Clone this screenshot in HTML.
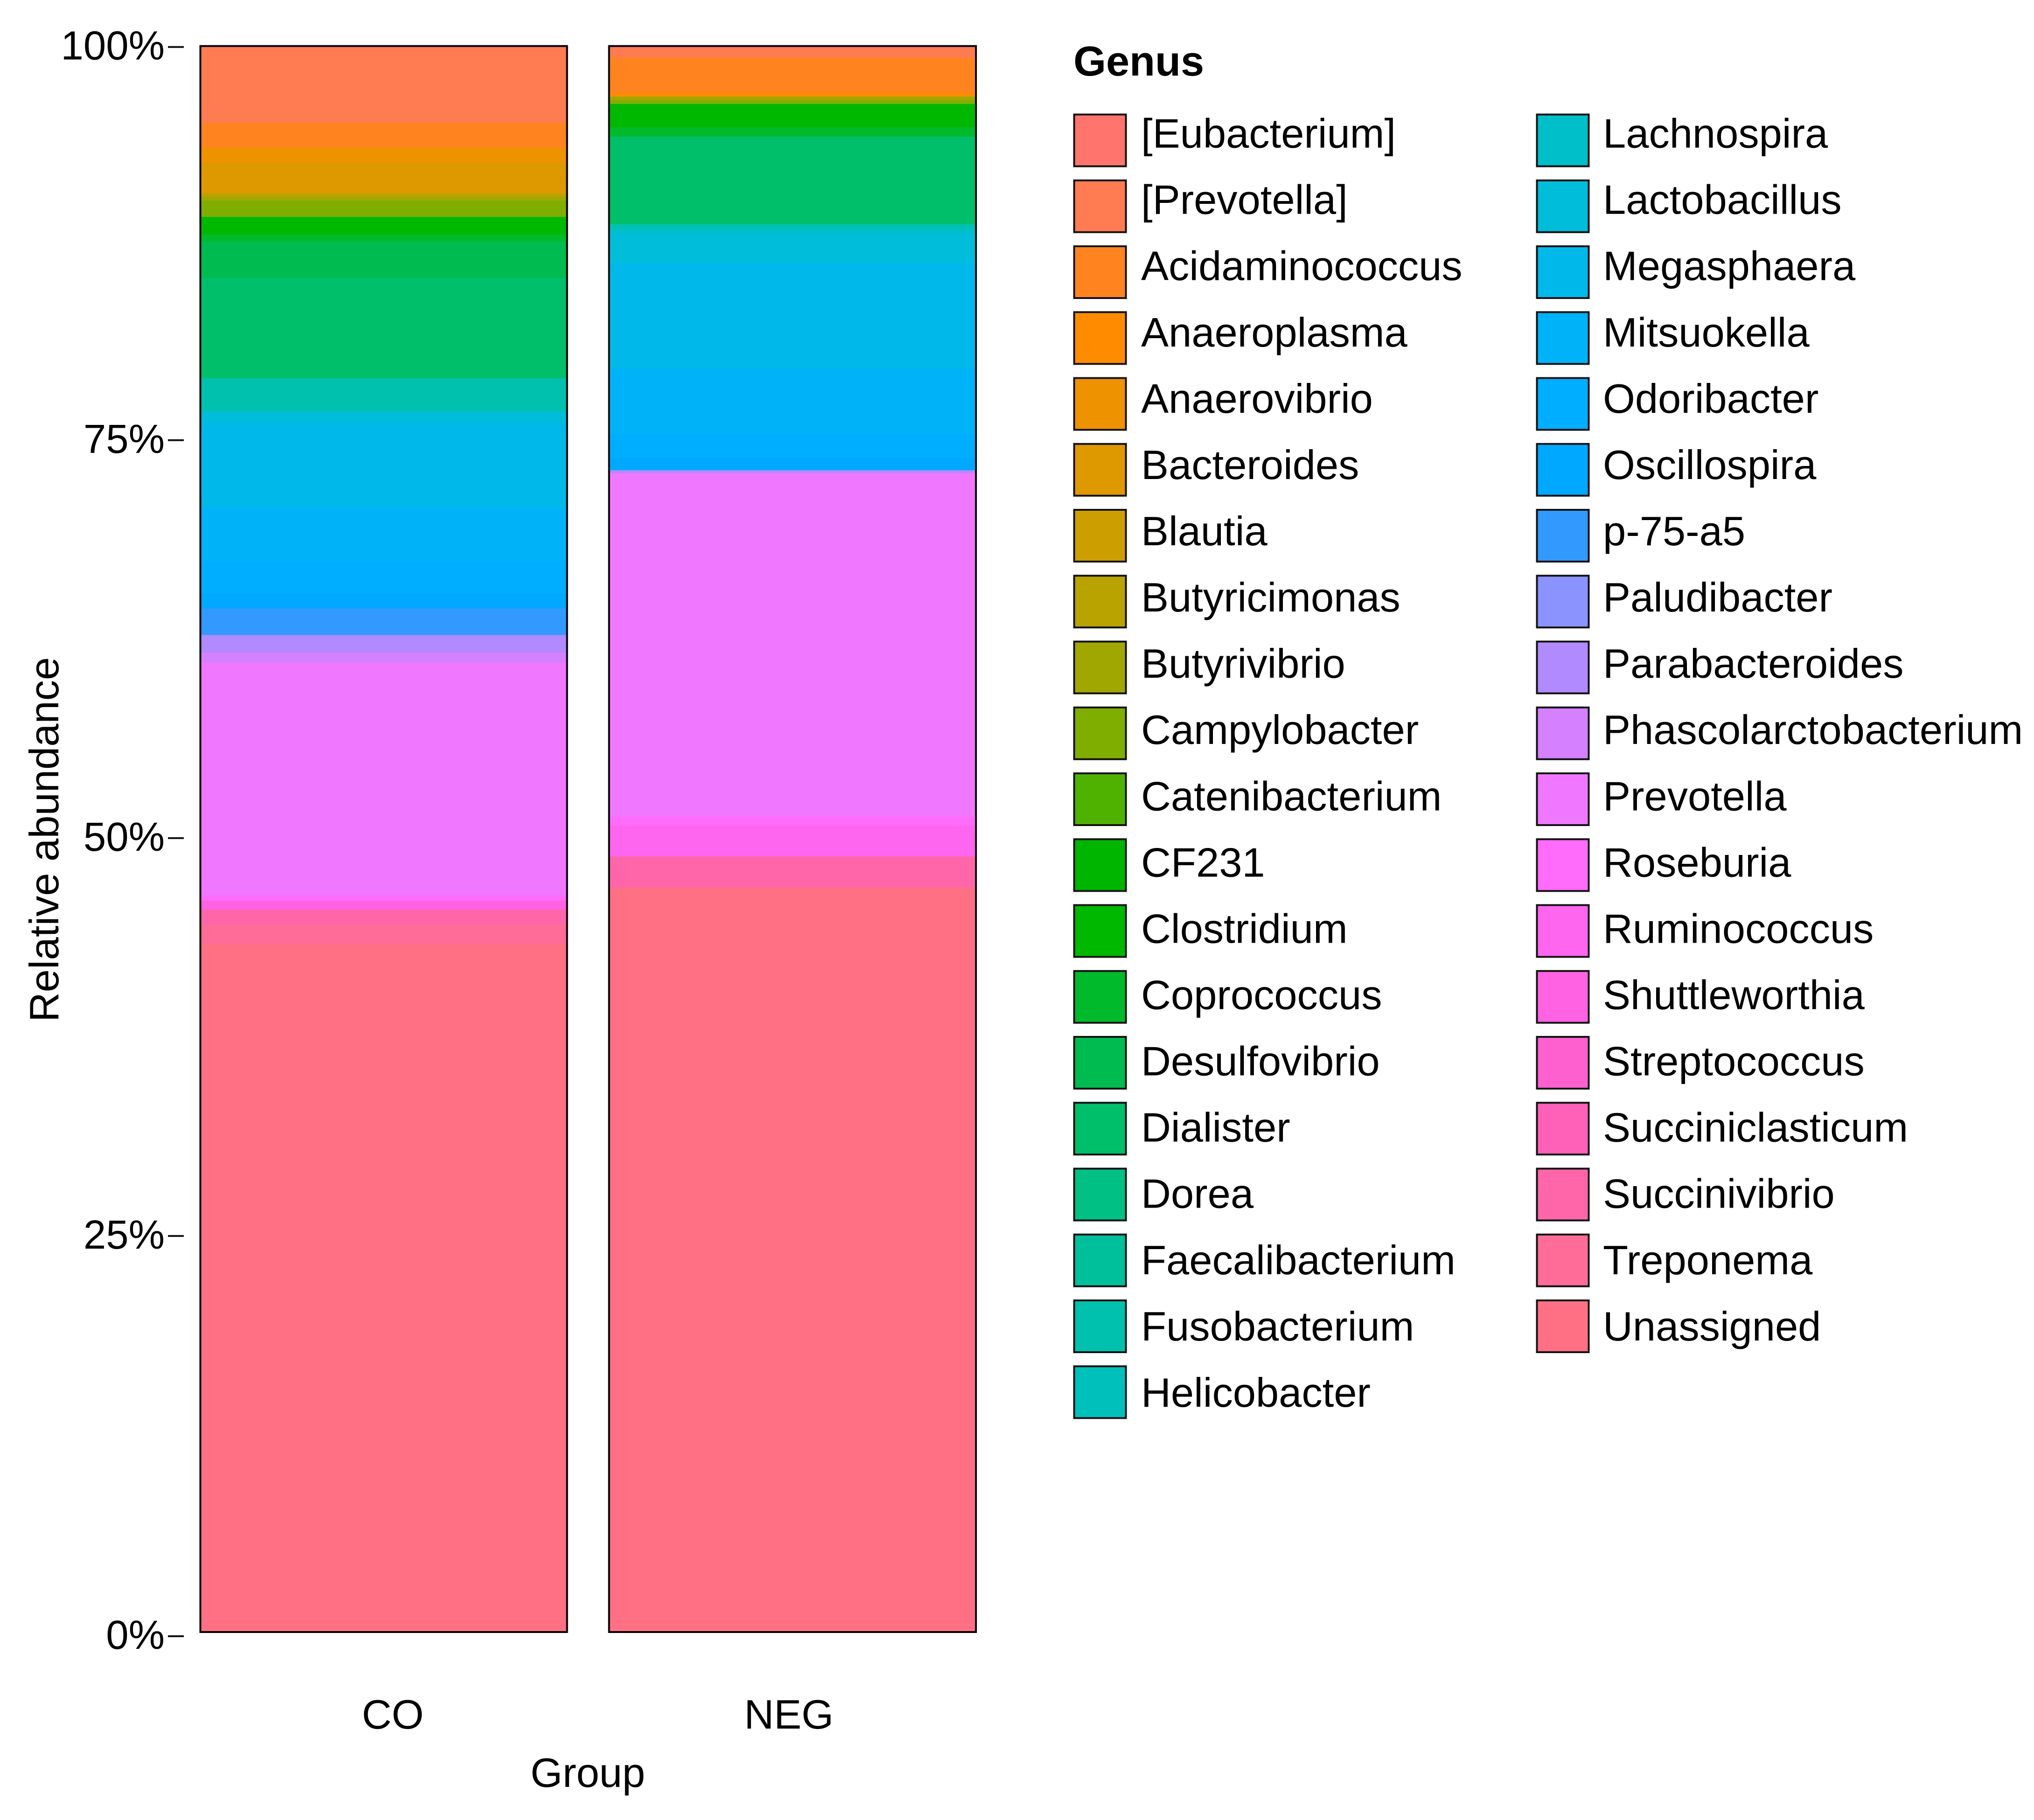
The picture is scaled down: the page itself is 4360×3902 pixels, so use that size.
<!DOCTYPE html>
<html lang="en">
<head>
<meta charset="utf-8">
<title>Relative abundance by genus</title>
<style>
  html, body { margin: 0; padding: 0; background: #fff; }
  #chart { display: block; width: 4360px; height: 3902px; background: #fff; }
  text { font-family: "Liberation Sans", Arial, sans-serif; fill: #000; }
</style>
</head>
<body>
<svg id="chart" xmlns="http://www.w3.org/2000/svg" width="4360" height="3902" viewBox="0 0 4360 3902">
  <g id="bars"></g>
  <g id="y-axis"></g>
  <g id="x-axis"></g>
  <text transform="translate(125 1800) rotate(-90)" text-anchor="middle" font-size="88.5">Relative abundance</text>
  <text x="1260" y="3831" text-anchor="middle" font-size="88.5">Group</text>
  <g id="legend">
    <text x="2301" y="162" font-size="90" font-weight="700">Genus</text>
  </g>
</svg>
<script>
const genera = ["[Eubacterium]","[Prevotella]","Acidaminococcus","Anaeroplasma","Anaerovibrio","Bacteroides","Blautia","Butyricimonas","Butyrivibrio","Campylobacter","Catenibacterium","CF231","Clostridium","Coprococcus","Desulfovibrio","Dialister","Dorea","Faecalibacterium","Fusobacterium","Helicobacter","Lachnospira","Lactobacillus","Megasphaera","Mitsuokella","Odoribacter","Oscillospira","p-75-a5","Paludibacter","Parabacteroides","Phascolarctobacterium","Prevotella","Roseburia","Ruminococcus","Shuttleworthia","Streptococcus","Succiniclasticum","Succinivibrio","Treponema","Unassigned"];
const genusColors = ["#FF746C","#FF7B52","#FF841F","#FF8C00","#EE9200","#DE9800","#CC9E00","#B8A300","#A0A800","#80AE00","#50B200","#00B500","#00B800","#00BA2C","#00BB50","#00BF6A","#00C084","#00C09C","#00C1AD","#00C0BC","#00BFC8","#00BDDA","#00B9EA","#00B3F8","#00AEFF","#00A8FF","#3299FF","#8A93FF","#B18AFF","#D480FF","#F077FF","#FF6BFA","#FF66F0","#FF62E2","#FF60D0","#FF60B8","#FF66AA","#FF6C98","#FF7085"];
const groups = ["CO","NEG"];
const coValues = [0,4.83,1.59,0,0.91,1.97,0,0.22,0.22,1.03,0,0,1.12,0.44,2.29,6.32,0,0,2.09,0,0,0.7,5.41,3.32,2.06,0.94,1.68,0,1.09,0.62,14.7,0.35,0,0.56,0,0,0.91,1.24,43.38];
const negValues = [0,0.71,2.26,0.21,0,0,0,0,0.24,0.24,0,0,1.47,0.59,0,5.5,0,0,0.29,0,0.29,1.88,6.65,4.12,1.53,0.76,0,0,0.18,0,21.67,0.56,1.94,0,0,0,1.97,0,46.94];
const yTickValues = [0,25,50,75,100];
const yTickLabels = ["0%","25%","50%","75%","100%"];

const SVGNS = "http://www.w3.org/2000/svg";
const plotBottom = 3499, plotTop = 98.7;
function yScale(v) { return plotBottom - (v / 100) * (plotBottom - plotTop); }
const barEdges = [[429.5, 1215.5], [1305.5, 2092]];
const groupLabelCenters = [842, 1691];
const tickNudge = [9, 1, -2, -5, 2];

function make(tag, parent, attrs, txt) {
  const el = document.createElementNS(SVGNS, tag);
  for (const k in attrs) el.setAttribute(k, attrs[k]);
  if (txt !== undefined) el.textContent = txt;
  parent.appendChild(el);
  return el;
}
function slug(s) { return s.toLowerCase().replace(/[^a-z0-9]+/g, "-").replace(/^-|-$/g, ""); }

const barsG = document.getElementById("bars");
[coValues, negValues].forEach(function (values, g) {
  const total = values.reduce(function (a, b) { return a + b; }, 0);
  const x0 = barEdges[g][0], x1 = barEdges[g][1];
  let cum = 0;
  values.forEach(function (v, i) {
    const top = yScale(100 - (cum / total) * 100);
    cum += v;
    const bottom = yScale(100 - (cum / total) * 100);
    const seg = make("rect", barsG, { x: x0, y: top, width: x1 - x0, height: Math.max(0, bottom - top), fill: genusColors[i], "shape-rendering": "crispEdges" });
    
    
  });
  const outline = make("rect", barsG, { x: x0, y: plotTop, width: x1 - x0, height: plotBottom - plotTop, fill: "none", stroke: "#000", "stroke-width": 4 });
  
  
});

const yAxis = document.getElementById("y-axis");
yTickValues.forEach(function (v, i) {
  const y = yScale(v) + tickNudge[i];
  const tick = make("line", yAxis, { x1: 360, x2: 394, y1: y, y2: y, stroke: "#111", "stroke-width": 4 });
  
  
  const label = make("text", yAxis, { x: 353, y: y + 27, "text-anchor": "end", "font-size": 87 }, yTickLabels[i]);
  
  
});

const xAxis = document.getElementById("x-axis");
groups.forEach(function (name, i) {
  const label = make("text", xAxis, { x: groupLabelCenters[i], y: 3706, "text-anchor": "middle", "font-size": 88.5 }, name);
  
  
});

const legend = document.getElementById("legend");
const leftRows = 20;
genera.forEach(function (name, i) {
  const col = i < leftRows ? 0 : 1;
  const row = col === 0 ? i : i - leftRows;
  const keyX = col === 0 ? 2302.5 : 3294.5;
  const textX = col === 0 ? 2446 : 3436;
  const key = make("rect", legend, { x: keyX, y: 245.5 + row * 141.25, width: 111, height: 111, fill: genusColors[i], stroke: "#111", "stroke-width": 4 });
  
  
  const label = make("text", legend, { x: textX, y: 316.6 + row * 142.07, "font-size": 88.5 }, name);
  
  
});
</script>
</body>
</html>
